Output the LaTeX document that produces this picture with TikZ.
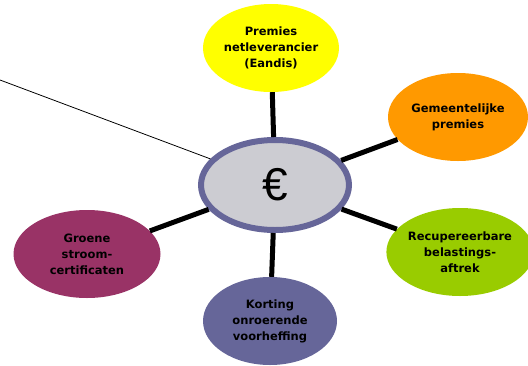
\documentclass[tikz,border=0pt]{standalone}
\usepackage{fontspec}
\setmainfont{Liberation Sans}
\newfontfamily\bubblefont{DejaVu Sans}
\usepackage{tikz}
\usetikzlibrary{shapes.geometric, positioning}

\definecolor{premieyellow}{HTML}{FFFF00}
\definecolor{premieorange}{HTML}{FF9900}
\definecolor{premiegreen}{HTML}{99CC00}
\definecolor{premieplum}{HTML}{993366}
\definecolor{premieslate}{HTML}{666699}
\definecolor{eurofill}{HTML}{CCCCD2}

\begin{document}
\begin{tikzpicture}[x=1pt, y=-1pt,
        bubble/.style={ellipse, minimum width=136pt, minimum height=88pt, inner sep=0pt,
            align=center, font=\bubblefont\fontsize{11.5}{16}\selectfont\bfseries},
        spoke/.style={line width=5pt, black}]
    \useasboundingbox (0,0) rectangle (528,365);
    % centre
    \node[ellipse, draw=premieslate, line width=6pt, fill=eurofill,
        minimum width=148pt, minimum height=90pt, font=\fontsize{46}{46}\selectfont] (euro) at (275,185) {€};
    % outer bubbles
    \node[bubble, fill=premieyellow] (netbeheer) at (271,48) {Premies\\netleverancier\\(Eandis)};
    \node[bubble, fill=premieorange, minimum width=140pt] (gemeente) at (458,117) {Gemeentelijke\\premies};
    \node[bubble, fill=premiegreen] (belasting) at (460,252) {Recupereerbare\\belastings-\\aftrek};
    \node[bubble, fill=premieslate, minimum width=134pt] (korting) at (270,321) {Korting\\onroerende\\voorheffing};
    \node[bubble, fill=premieplum, minimum width=147pt] (groen) at (87,254) {Groene\\stroom-\\certificaten};
    % spokes
    \foreach \x in {netbeheer, gemeente, belasting, korting, groen} {
            \draw[spoke] (euro) -- (\x);
        };
    % pointer
    \coordinate (pijl) at (0,80);
    \draw[line width=0.8pt] (pijl) -- (euro.158);
\end{tikzpicture}
\end{document}
